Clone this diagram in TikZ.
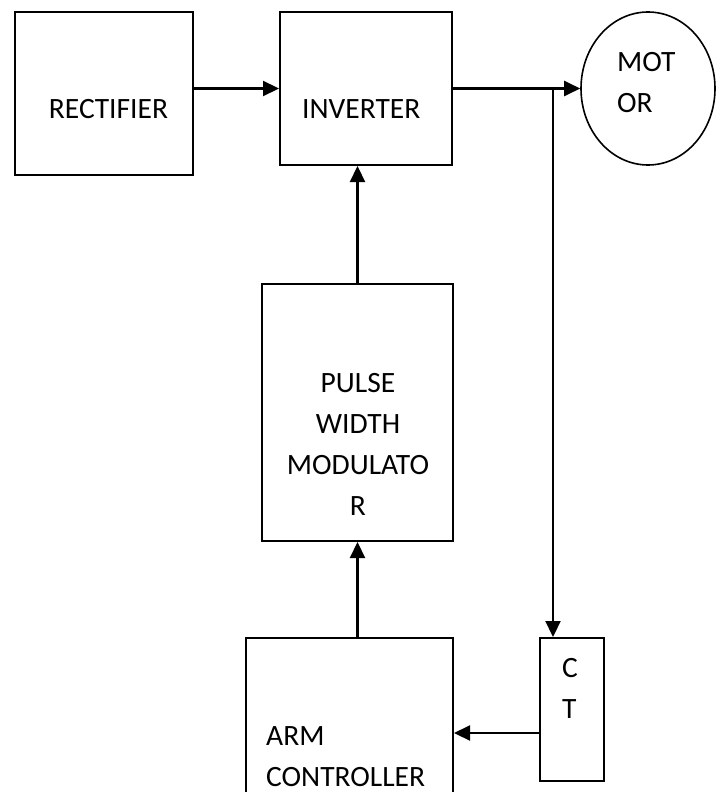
\documentclass[tikz,border=0pt]{standalone}
\usepackage{fontspec}
\setmainfont{Carlito}
\usetikzlibrary{positioning,arrows.meta,calc,shapes.geometric}
\tikzset{
  block/.style={rectangle, draw=black, line width=2pt, inner sep=0pt},
  motorshape/.style={ellipse, draw=black, line width=1.6pt, inner sep=0pt},
  edge/.style={-{Triangle[length=16pt,width=15pt]}, line width=2.2pt},
  lbl/.style={font=\fontsize{29.5}{41}\selectfont, inner sep=0pt}
}

\begin{document}
\begin{tikzpicture}[x=1pt, y=-1pt]
        \useasboundingbox (0,0) rectangle (722,792);
        % blocks
        \node[block, minimum width=178pt, minimum height=163pt] (rect) at (104,93.5) {};
        \node[block, minimum width=172pt, minimum height=153pt] (inv) at (366,88.5) {};
        \node[motorshape, minimum width=134pt, minimum height=153pt] (motor) at (648,88.5) {};
        \node[block, minimum width=191pt, minimum height=257pt] (pwm) at (357.5,412.5) {};
        \node[block, minimum width=207pt, minimum height=180pt] (arm) at (349.5,728) {};
        \node[block, minimum width=64pt, minimum height=143pt] (ct) at (572,709.5) {};
        % texts
        \node[lbl] (rectlbl) at (108.5,109) {RECTIFIER};
        \node[lbl, anchor=west] (invlbl) at (302,109) {INVERTER};
        \node[lbl, anchor=west, align=left] (motorlbl) at (617,83) {MOT\\OR};
        \node[lbl, align=center] (pwmlbl) at (358,444) {PULSE\\WIDTH\\MODULATO\\R};
        \node[lbl, anchor=west, align=left] (armlbl) at (266,756.5) {ARM\\CONTROLLER};
        \node[lbl, anchor=west, align=left] (ctlbl) at (562,688.5) {C\\T};
        % connections
        \coordinate (tap) at (553,88.5);
        \coordinate (ctout) at ($(ct.west)+(0,23.5)$);
        \draw[edge] (rect.east |- inv.west) -- (inv.west);
        \draw[edge] (inv.east) -- (motor.west);
        \draw[edge] (tap) -- (tap |- ct.north);
        \draw[edge] (ctout) -- (arm.east |- ctout);
        \draw[edge] (arm.north -| pwm.south) -- (pwm.south);
        \draw[edge] (pwm.north) -- (pwm.north |- inv.south);
      \end{tikzpicture}
\end{document}
